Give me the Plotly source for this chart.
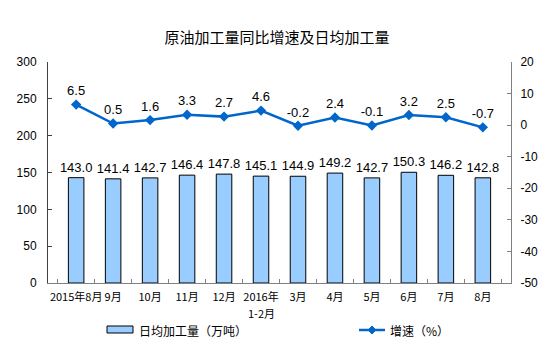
import plotly.graph_objects as go

categories = ["2015年8月", "9月", "10月", "11月", "12月", "2016年 1-2月",
              "3月", "4月", "5月", "6月", "7月", "8月"]
daily_output = [143.0, 141.4, 142.7, 146.4, 147.8, 145.1, 144.9, 149.2, 142.7, 150.3, 146.2, 142.8]
growth = [6.5, 0.5, 1.6, 3.3, 2.7, 4.6, -0.2, 2.4, -0.1, 3.2, 2.5, -0.7]
legend_labels = ["日均加工量（万吨）", "增速（%）"]
left_ticks = [0, 50, 100, 150, 200, 250, 300]
right_ticks = [-50, -40, -30, -20, -10, 0, 10, 20]

num_font = "Liberation Sans, Arial, Noto Sans CJK SC"
cjk_font = "Noto Sans CJK SC, Liberation Sans"

W, H = 554, 352
L, R, T, B = 48, 43, 62, 69
PW, PH = W - L - R, H - T - B

def px(x):
    return (x - L) / PW

def py(y):
    return (H - B - y) / PH

# first line of each category shown as tick label, any second line as annotation
first_lines = [c.split(" ")[0] for c in categories]
second_lines = [(c, c.split(" ")[1]) for c in categories if " " in c]

fig = go.Figure()
fig.add_trace(go.Bar(
    x=categories, y=daily_output, name=legend_labels[0],
    marker=dict(color="#99CCFF", line=dict(color="#000000", width=1)),
    width=0.42,
    text=[f"{v:.1f}" for v in daily_output], textposition="outside",
    constraintext="none",
    textfont=dict(size=13, color="#000000", family=num_font),
    cliponaxis=False,
))
fig.add_trace(go.Scatter(
    x=categories, y=growth, name=legend_labels[1], yaxis="y2",
    mode="lines+markers+text",
    line=dict(color="#0066CC", width=2.5),
    marker=dict(symbol="diamond", size=8, color="#0066CC"),
    text=[f"{v:.1f}" for v in growth], textposition="top center",
    textfont=dict(size=13, color="#000000", family=num_font),
    cliponaxis=False,
))

shapes = [
    dict(type="rect", xref="paper", yref="paper",
         x0=px(107), x1=px(133), y0=py(333), y1=py(326),
         fillcolor="#99CCFF", line=dict(color="#000000", width=1)),
    dict(type="line", xref="paper", yref="paper",
         x0=px(359), x1=px(385), y0=py(330), y1=py(330),
         line=dict(color="#0066CC", width=2.5)),
    dict(type="path", xref="paper", yref="paper",
         path=f"M {px(372)},{py(326)} L {px(376)},{py(330)} L {px(372)},{py(334)} L {px(368)},{py(330)} Z",
         fillcolor="#0066CC", line=dict(color="#0066CC", width=1)),
]
annotations = [
    dict(text=legend_labels[0], xref="paper", yref="paper", x=px(137), y=py(330),
         xanchor="left", yanchor="middle", showarrow=False,
         font=dict(size=12, family=cjk_font, color="#000000")),
    dict(text=legend_labels[1], xref="paper", yref="paper", x=px(388), y=py(330),
         xanchor="left", yanchor="middle", showarrow=False,
         font=dict(size=12, family=cjk_font, color="#000000")),
]
for cat, line2 in second_lines:
    annotations.append(dict(text=line2, xref="x", yref="paper", x=cat, y=py(313),
                            xanchor="center", yanchor="middle", showarrow=False,
                            font=dict(size=11, family=cjk_font, color="#000000")))

fig.update_layout(
    width=W, height=H,
    margin=dict(l=L, r=R, t=T, b=B),
    paper_bgcolor="white", plot_bgcolor="white",
    title=dict(text="原油加工量同比增速及日均加工量", x=0.5, xanchor="center",
               y=1 - 38 / H, yanchor="middle",
               font=dict(size=15, color="#000000", family=cjk_font)),
    font=dict(family=cjk_font, size=11, color="#000000"),
    showlegend=False,
    shapes=shapes, annotations=annotations,
    xaxis=dict(showline=True, linecolor="#808080", linewidth=1, tickangle=0,
               automargin=False, tickmode="array", tickvals=categories, ticktext=first_lines,
               ticklabelstandoff=4,
               ticks="inside", ticklen=4, tickcolor="#808080", tickson="boundaries",
               tickfont=dict(size=11, family=cjk_font), showgrid=False),
    yaxis=dict(range=[0, 300], tickmode="array", tickvals=left_ticks,
               ticktext=[str(v) for v in left_ticks],
               showline=True, linecolor="#404040", linewidth=1,
               automargin=False, ticklabelstandoff=8,
               ticks="inside", ticklen=4, tickcolor="#404040", showgrid=False, zeroline=False,
               tickfont=dict(size=12, family=num_font)),
    yaxis2=dict(range=[-50, 20], tickmode="array", tickvals=right_ticks,
                ticktext=[str(v) for v in right_ticks],
                overlaying="y", side="right",
                automargin=False, ticklabelstandoff=6,
                showline=True, linecolor="#808080", linewidth=1,
                ticks="inside", ticklen=4, tickcolor="#808080", showgrid=False, zeroline=False,
                tickfont=dict(size=12, family=num_font)),
)

fig.write_html("out.html")
